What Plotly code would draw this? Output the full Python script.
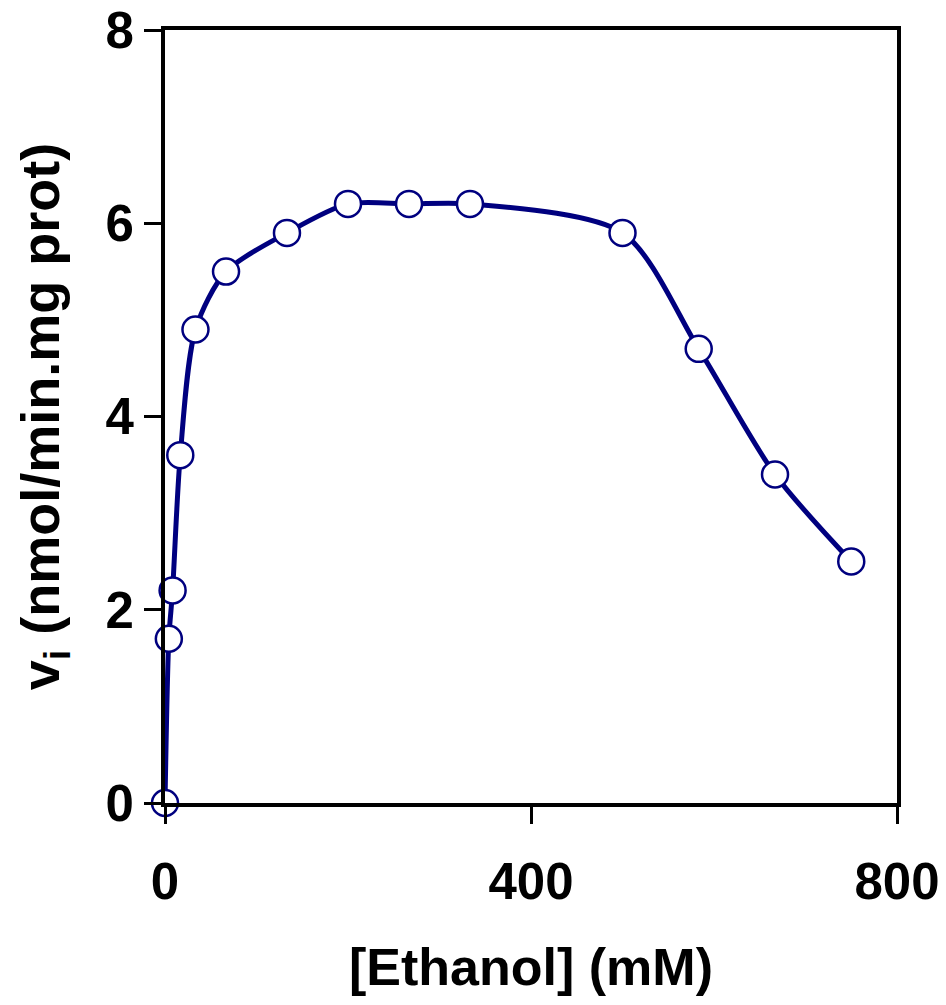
import plotly.graph_objects as go

ethanol_mM = [0, 4.2, 8.3, 16.7, 33.3, 66.7, 133.3, 200, 266.7, 333.3, 500, 583.3, 666.7, 750]
rate = [0.0, 1.7, 2.2, 3.6, 4.9, 5.5, 5.9, 6.2, 6.2, 6.2, 5.9, 4.7, 3.4, 2.5]

x_ticks = [0, 400, 800]
y_ticks = [0, 2, 4, 6, 8]

navy = "#00007F"
font_family = "Liberation Sans, Arial, sans-serif"

fig = go.Figure()
fig.add_trace(go.Scatter(
    x=ethanol_mM, y=rate,
    mode="lines+markers",
    line=dict(color=navy, width=5, shape="spline", smoothing=0.8),
    marker=dict(symbol="circle", size=26, color="white", line=dict(color=navy, width=2.5)),
    cliponaxis=False,
    showlegend=False,
))

axis_common = dict(
    showgrid=False, zeroline=False, automargin=False,
    showline=True, linecolor="black", linewidth=4, mirror=True,
    ticks="outside", ticklen=17, tickwidth=3, tickcolor="black",
    ticklabeloverflow="allow",
    tickfont=dict(family=font_family, size=51, color="black", weight="bold"),
)

fig.update_layout(
    width=946, height=1005,
    margin=dict(l=165, r=49, t=30, b=202),
    paper_bgcolor="white", plot_bgcolor="white",
    xaxis=dict(range=[0, 800], tickvals=x_ticks, ticktext=[str(v) for v in x_ticks],
               ticklabelstandoff=14,
               title=dict(text="[Ethanol] (mM)", standoff=40,
                          font=dict(family=font_family, size=52, color="black", weight="bold")),
               **axis_common),
    yaxis=dict(range=[0, 8], tickvals=y_ticks, ticktext=[str(v) for v in y_ticks],
               title=dict(text="v<sub>i</sub> (nmol/min.mg prot)", standoff=30,
                          font=dict(family=font_family, size=54, color="black", weight="bold")),
               **axis_common),
)

fig.write_html("out.html",
               config={"displayModeBar": False},
               post_script="document.body.style.margin='0';document.body.style.overflow='hidden';")
